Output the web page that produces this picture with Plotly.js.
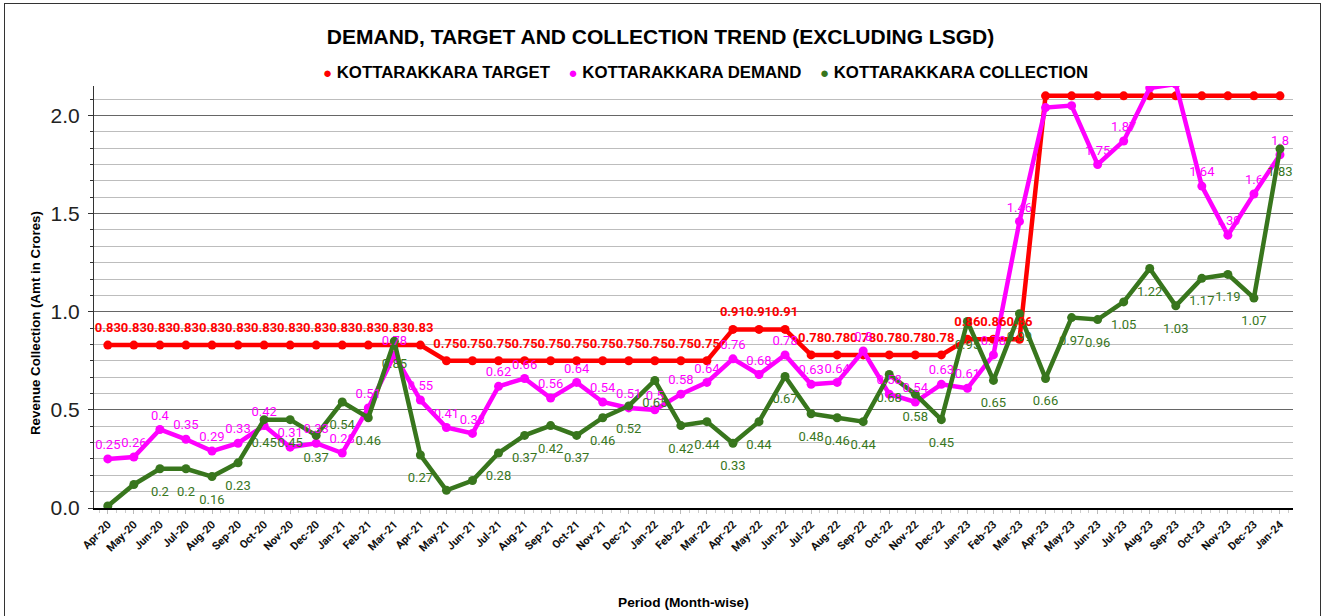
<!DOCTYPE html>
<html>
<head>
<meta charset="utf-8">
<script src="https://cdn.plot.ly/plotly-3.0.1.min.js"></script>
<style>
  html, body { margin: 0; padding: 0; background: #fff; }
  #chart { width: 1321px; height: 616px; }
  #frame { position: absolute; left: 4px; top: 3px; width: 1315px; height: 620px; border: 1px solid #333; pointer-events: none; }
</style>
</head>
<body>
<div id="chart"></div>
<div id="frame"></div>
<script>
const months = ["Apr-20","May-20","Jun-20","Jul-20","Aug-20","Sep-20","Oct-20","Nov-20","Dec-20","Jan-21","Feb-21","Mar-21",
  "Apr-21","May-21","Jun-21","Jul-21","Aug-21","Sep-21","Oct-21","Nov-21","Dec-21","Jan-22","Feb-22","Mar-22",
  "Apr-22","May-22","Jun-22","Jul-22","Aug-22","Sep-22","Oct-22","Nov-22","Dec-22","Jan-23","Feb-23","Mar-23",
  "Apr-23","May-23","Jun-23","Jul-23","Aug-23","Sep-23","Oct-23","Nov-23","Dec-23","Jan-24"];

const target = [0.83,0.83,0.83,0.83,0.83,0.83,0.83,0.83,0.83,0.83,0.83,0.83,
  0.83,0.75,0.75,0.75,0.75,0.75,0.75,0.75,0.75,0.75,0.75,0.75,
  0.91,0.91,0.91,0.78,0.78,0.78,0.78,0.78,0.78,0.86,0.86,0.86,
  2.1,2.1,2.1,2.1,2.1,2.1,2.1,2.1,2.1,2.1];

const demand = [0.25,0.26,0.4,0.35,0.29,0.33,0.42,0.31,0.33,0.28,0.51,0.78,
  0.55,0.41,0.38,0.62,0.66,0.56,0.64,0.54,0.51,0.5,0.58,0.64,
  0.76,0.68,0.78,0.63,0.64,0.8,0.58,0.54,0.63,0.61,0.78,1.46,
  2.04,2.05,1.75,1.87,2.14,2.16,1.64,1.39,1.6,1.8];

const collection = [0.01,0.12,0.2,0.2,0.16,0.23,0.45,0.45,0.37,0.54,0.46,0.85,
  0.27,0.09,0.14,0.28,0.37,0.42,0.37,0.46,0.52,0.65,0.42,0.44,
  0.33,0.44,0.67,0.48,0.46,0.44,0.68,0.58,0.45,0.95,0.65,0.99,
  0.66,0.97,0.96,1.05,1.22,1.03,1.17,1.19,1.07,1.83];

const seriesNames = ["KOTTARAKKARA TARGET","KOTTARAKKARA DEMAND","KOTTARAKKARA COLLECTION"];
const seriesColors = ["#ff0000","#ff00ff","#38761d"];

// months whose data labels are not shown in the reference
const hiddenTarget = ["Apr-23","May-23","Jun-23","Jul-23","Aug-23","Sep-23","Oct-23","Nov-23","Dec-23","Jan-24"];
const hiddenDemand = ["Apr-23","May-23","Aug-23","Sep-23"];
const hiddenCollection = ["Apr-20","May-20","May-21","Jun-21"];

const xs = months.map((m, i) => i);
function labels(vals, hidden) {
  return vals.map((v, i) => hidden.includes(months[i]) ? "" : String(v));
}

function lineTrace(vals, idx) {
  return {
    x: xs, y: vals, type: "scatter", mode: "lines+markers",
    name: seriesNames[idx], showlegend: false,
    line: { color: seriesColors[idx], width: 4.5 },
    marker: { color: seriesColors[idx], size: 9 },
    cliponaxis: true, hoverinfo: "x+y"
  };
}

// label layer: invisible markers whose size sets how far the label sits from the point
function labelTrace(vals, idx, hidden, pos, bold, gap) {
  return {
    x: xs, y: vals, type: "scatter", mode: "markers+text",
    name: seriesNames[idx], showlegend: false, hoverinfo: "skip",
    marker: { color: "rgba(0,0,0,0)", size: gap },
    text: labels(vals, hidden), textposition: pos,
    textfont: { family: "Roboto", size: 13, color: seriesColors[idx], weight: bold ? "bold" : "normal" },
    cliponaxis: true
  };
}

const data = [
  lineTrace(target, 0),
  lineTrace(demand, 1),
  lineTrace(collection, 2),
  labelTrace(target, 0, hiddenTarget, "top center", true, 14),
  labelTrace(demand, 1, hiddenDemand, "top center", false, 9),
  labelTrace(collection, 2, hiddenCollection, "bottom center", false, 26)
];

const legendText = seriesNames.map((n, i) =>
  "<span style='color:" + seriesColors[i] + ";font-size:15px'>●</span> " + n
).join("&nbsp;&nbsp;&nbsp;&nbsp;");

const layout = {
  width: 1321, height: 616,
  margin: { l: 94, r: 28, t: 86, b: 108 },
  paper_bgcolor: "#fff", plot_bgcolor: "#fff",
  showlegend: false,
  title: {
    text: "DEMAND, TARGET AND COLLECTION TREND (EXCLUDING LSGD)",
    font: { family: "Liberation Sans, Arial", size: 21, color: "#000", weight: "bold" },
    x: 0.5, xanchor: "center", y: 0.94, yanchor: "middle"
  },
  xaxis: {
    range: [-0.53, 45.5], tickvals: xs, ticktext: months, tickangle: -45,
    tickfont: { family: "Roboto", size: 11, color: "#111", weight: "bold" },
    showgrid: false, zeroline: false,
    showline: true, linecolor: "#000", linewidth: 1.5,
    ticks: "outside", ticklen: 4, tickcolor: "#bbb",
    minor: { dtick: 1/3, ticks: "outside", ticklen: 3, tickcolor: "#ccc" }
  },
  yaxis: {
    range: [0, 2.15], dtick: 0.5, tickformat: ".1f",
    tickfont: { family: "Liberation Sans, Arial", size: 21, color: "#222" },
    showgrid: true, gridcolor: "#666", gridwidth: 1, zeroline: false,
    showline: true, linecolor: "#333", linewidth: 1,
    ticks: "outside", ticklen: 5, tickcolor: "#333", ticklabelstandoff: 4,
    minor: { dtick: 0.5/6, showgrid: true, gridcolor: "#bdbdbd", gridwidth: 1, ticks: "outside", ticklen: 3, tickcolor: "#333" }
  },
  annotations: [
    { text: legendText, xref: "paper", yref: "paper",
      x: (705.5 - 94) / 1199, y: (508 - 72) / 422, xanchor: "center", yanchor: "middle", showarrow: false,
      font: { family: "Liberation Sans, Arial", size: 16.8, color: "#000", weight: "bold" } },
    { text: "Revenue Collection (Amt in Crores)", textangle: -90, xref: "paper", yref: "paper",
      x: (35 - 94) / 1199, y: (508 - 323) / 422, xanchor: "center", yanchor: "middle", showarrow: false,
      font: { family: "Liberation Sans, Arial", size: 13.3, color: "#000", weight: "bold" } },
    { text: "Period (Month-wise)", xref: "paper", yref: "paper",
      x: (683 - 94) / 1199, y: (508 - 602) / 422, xanchor: "center", yanchor: "middle", showarrow: false,
      font: { family: "Liberation Sans, Arial", size: 13.7, color: "#000", weight: "bold" } }
  ],
  hovermode: "closest"
};

Plotly.newPlot("chart", data, layout, { displayModeBar: false, responsive: false });
</script>
</body>
</html>
